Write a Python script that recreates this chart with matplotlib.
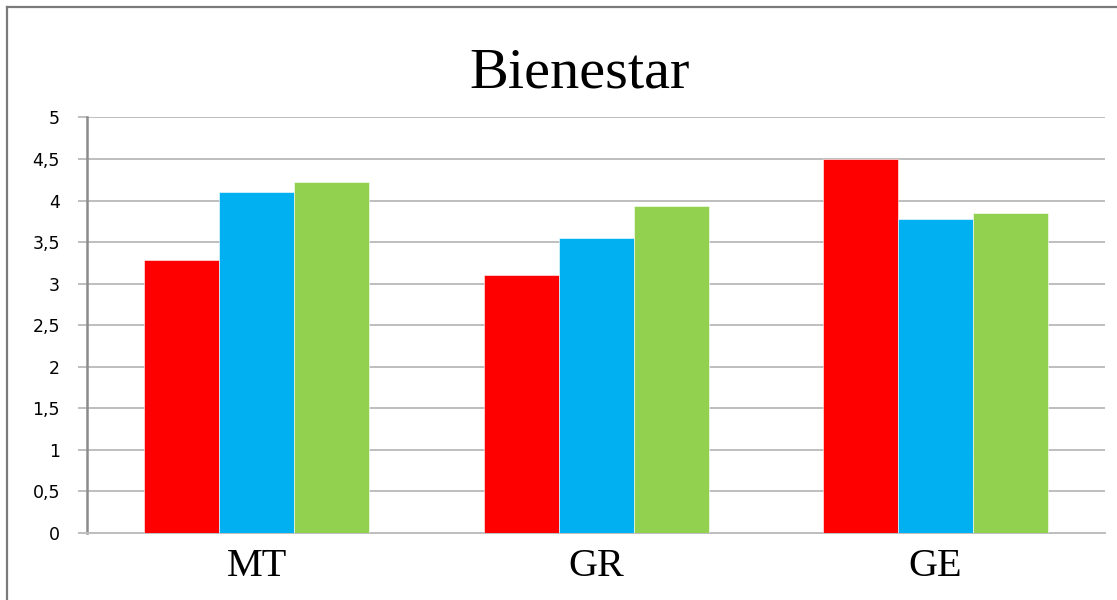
import numpy as np
import matplotlib
matplotlib.use("Agg")
import matplotlib.pyplot as plt
from matplotlib.lines import Line2D
from matplotlib.ticker import FuncFormatter

# ---------------------------------------------------------------------------
# Data

groups = ["MT", "GR", "GE"]
serie_roja = [3.29, 3.11, 4.50]
serie_azul = [4.10, 3.55, 3.78]
serie_verde = [4.22, 3.93, 3.85]
colores = ["#FF0000", "#00B0F0", "#92D050"]
y_ticks = np.arange(0, 5.01, 0.5)

# ---------------------------------------------------------------------------
# Figure and axes

fig = plt.figure(figsize=(11.17, 6.0), dpi=100)
ax = fig.add_axes([0.0779, 0.1117, 0.9114, 0.6925])

x = np.arange(len(groups))
w = 0.221
for k, (vals, col) in enumerate(zip([serie_roja, serie_azul, serie_verde], colores)):
    ax.bar(x + (k - 1) * w, vals, width=w, color=col, zorder=3,
           edgecolor="white", linewidth=0.4)

ax.set_xlim(-0.5, len(groups) - 0.5)
ax.set_ylim(0, 5)
ax.set_yticks(y_ticks)
ax.yaxis.set_major_formatter(FuncFormatter(lambda v, p: f"{v:g}".replace(".", ",")))
ax.grid(axis="y", color="#BEBEBE", linewidth=1.4, zorder=0)
ax.set_axisbelow(True)

for s in ["top", "right"]:
    ax.spines[s].set_visible(False)
ax.spines["left"].set_color("#8A8A8A")
ax.spines["left"].set_linewidth(1.8)
ax.spines["bottom"].set_color("#BEBEBE")
ax.spines["bottom"].set_linewidth(1.4)

ax.tick_params(axis="y", length=6.5, width=1.4, color="#BEBEBE", pad=13,
               labelsize=12.5, labelcolor="black")
ax.tick_params(axis="x", length=0, pad=11)
ax.set_xticks(x)
ax.set_xticklabels(groups, fontfamily="Liberation Serif", fontsize=29)

# title
fig.text(580 / 1117, 1 - 87 / 600, "Bienestar", ha="center", va="baseline",
         fontfamily="Liberation Serif", fontsize=42)

# outer frame (left and top edges)
fig.add_artist(Line2D([7 / 1117, 7 / 1117], [0, 1 - 7 / 600], color="#7A7A7A",
                      linewidth=1.6, transform=fig.transFigure))
fig.add_artist(Line2D([7 / 1117, 1], [1 - 7 / 600, 1 - 7 / 600], color="#7A7A7A",
                      linewidth=1.6, transform=fig.transFigure))

fig.savefig("out.png", dpi=100)
